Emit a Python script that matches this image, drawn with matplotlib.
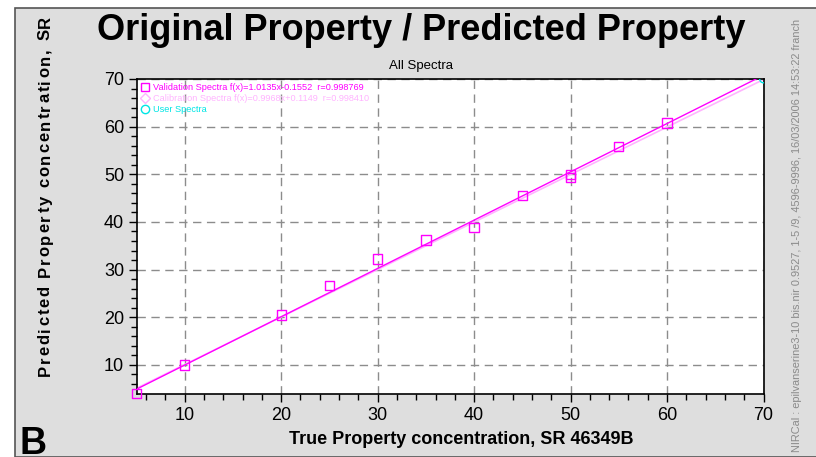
# Original vs predicted property, NIRCal style plot

import matplotlib
matplotlib.use("Agg")
import matplotlib.pyplot as plt
from matplotlib.lines import Line2D
from matplotlib.patches import Rectangle
import numpy as np

plt.rcParams['font.family'] = ['Liberation Sans', 'DejaVu Sans']

# validation spectra (true vs predicted)
val_true = [5, 10, 20, 25, 30, 35, 40, 45, 50, 50, 55, 60]
val_pred = [4.0, 10.0, 20.5, 26.6, 32.2, 36.2, 38.8, 45.5, 49.4, 49.9, 55.9, 60.8]

# user spectra
user_true = [70]
user_pred = [70]

# regression lines
val_slope, val_icpt = 1.0135, -0.1552
cal_slope, cal_icpt = 0.9968, 0.1149
line_x = np.array([5, 70])

legend_labels = [
    "Validation Spectra f(x)=1.0135x-0.1552  r=0.998769",
    "Calibration Spectra f(x)=0.9968x+0.1149  r=0.998410",
    "User Spectra",
]

magenta = "#ff00ff"
pink = "#ffb4ff"
cyan = "#00e5e5"

fig = plt.figure(figsize=(8.16, 4.57), dpi=100, facecolor="white")
W, H = 816, 457

# grey panel behind everything
fig.patches.append(Rectangle((15 / W, 0), 1, 1 - 8 / H, transform=fig.transFigure,
                             facecolor="#dedede", edgecolor="#555555", lw=1.2, zorder=-1))

ax = fig.add_axes([136.5 / W, 1 - 394 / H, 627 / W, 315 / H])
ax.set_facecolor("white")

ax.plot(line_x, cal_slope * line_x + cal_icpt, color=pink, lw=1.2, zorder=2)
ax.plot(line_x, val_slope * line_x + val_icpt, color=magenta, lw=1.0, zorder=3)
ax.scatter(val_true, val_pred, marker="s", s=45, facecolors="none", edgecolors=magenta,
           linewidths=1.0, zorder=4, clip_on=False)
ax.scatter(user_true, user_pred, marker="o", s=30, facecolors="none", edgecolors=cyan,
           linewidths=1.0, zorder=4)

ax.set_xlim(5, 70)
ax.set_ylim(3.9, 70)
ax.set_xticks([10, 20, 30, 40, 50, 60, 70])
ax.set_yticks([10, 20, 30, 40, 50, 60, 70])
ax.set_xticks(np.arange(6, 70, 2), minor=True)
ax.set_yticks(np.arange(6, 70, 2), minor=True)
ax.tick_params(which="major", length=6, width=1, labelsize=13, direction="out", pad=3)
ax.tick_params(which="minor", length=4, width=1, direction="out")
ax.grid(True, which="major", color="#8c8c8c", linestyle=(0, (6, 4)), lw=1.0)
for s in ax.spines.values():
    s.set_color("black")
    s.set_linewidth(1.2)

handles = [
    Line2D([], [], marker="s", ls="none", mfc="none", mec=magenta, ms=6),
    Line2D([], [], marker="D", ls="none", mfc="none", mec=pink, ms=5),
    Line2D([], [], marker="o", ls="none", mfc="none", mec=cyan, ms=6),
]
leg = ax.legend(handles, legend_labels, loc="upper left", frameon=False, fontsize=6.6,
                handletextpad=0.3, handlelength=1.0, labelspacing=0.2,
                borderaxespad=0.2, borderpad=0.25)
for t, c in zip(leg.get_texts(), [magenta, pink, cyan]):
    t.set_color(c)

fig.text(421 / W, 1 - 30 / H, "Original Property / Predicted Property", ha="center",
         va="center", fontsize=26, fontweight="bold")
fig.text(421 / W, 1 - 66 / H, "All Spectra", ha="center", va="center", fontsize=9.5)
fig.text(461 / W, 1 - 440 / H, "True Property concentration, SR 46349B", ha="center",
         va="center", fontsize=13, fontweight="bold")
fig.text(20 / W, 1 - 454 / H, "B", ha="left", va="baseline", fontsize=27, fontweight="bold")
fig.text(797 / W, 1 - 452 / H,
         "NIRCal : epilvanserine3-10 bis.nir 0.9527, 1-5 /9, 4596-9996, 16/03/2006 14:53:22 franch",
         rotation=90, ha="center", va="bottom", fontsize=7.9, color="#8a8a8a")

# y label drawn letter by letter, the original has wide letter spacing
ylab = "Predicted Property concentration, SR"
renderer = fig.canvas.get_renderer()
probe = fig.text(0, 0, "", fontsize=12, fontweight="bold")
track = 1.85
y0 = 376
for i, ch in enumerate(ylab):
    probe.set_text(ylab[:i] if i else "")
    w = probe.get_window_extent(renderer).width if i else 0
    fig.text(45 / W, 1 - (y0 - w - i * track) / H, ch, rotation=90, ha="center",
             va="bottom", fontsize=12, fontweight="bold")
probe.remove()

fig.savefig("out.png", dpi=100)
